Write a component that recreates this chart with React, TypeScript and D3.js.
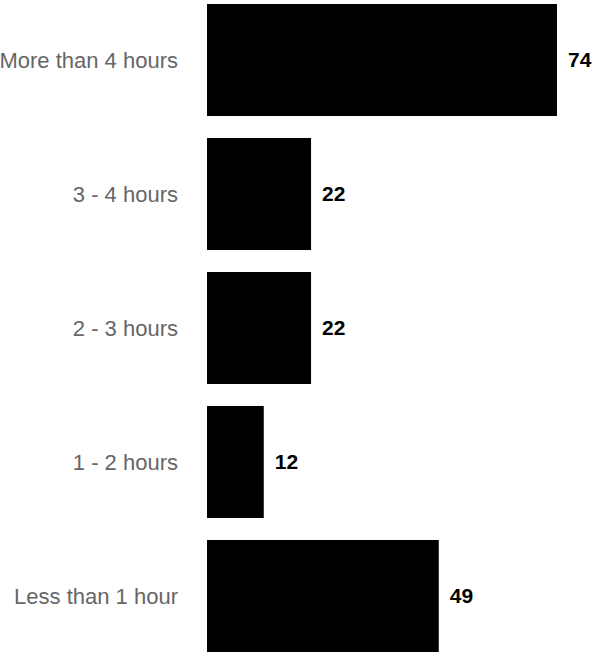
import React from 'react';
import * as d3 from 'd3';

const categories = [
  'More than 4 hours',
  '3 - 4 hours',
  '2 - 3 hours',
  '1 - 2 hours',
  'Less than 1 hour',
];
const values = [74, 22, 22, 12, 49];

const width = 593;
const height = 652;

const App: React.FC = () => {
  const svgRef = React.useRef<SVGSVGElement>(null);

  React.useEffect(() => {
    const svg = d3.select(svgRef.current);
    svg.selectAll('*').remove();

    const x = d3.scaleLinear().domain([0, 74]).range([207, 557]);
    const y = d3
      .scaleBand<string>()
      .domain(categories)
      .range([4, 652])
      .paddingInner(0.164)
      .paddingOuter(0);

    const data = categories.map((c, i) => ({ name: c, value: values[i] }));

    // bars
    svg
      .selectAll('.bar')
      .data(data)
      .enter()
      .append('rect')
      .attr('x', x(0))
      .attr('y', (d) => y(d.name)!)
      .attr('width', (d) => x(d.value) - x(0))
      .attr('height', y.bandwidth())
      .attr('fill', '#000');

    // category labels
    svg
      .selectAll('.label')
      .data(data)
      .enter()
      .append('text')
      .attr('x', 178)
      .attr('y', (d) => y(d.name)! + y.bandwidth() / 2)
      .attr('dy', '0.35em')
      .attr('text-anchor', 'end')
      .attr('fill', '#666')
      .attr('font-family', 'Liberation Sans, Arial, sans-serif')
      .attr('font-size', 22)
      .text((d) => d.name);

    // value labels
    svg
      .selectAll('.value')
      .data(data)
      .enter()
      .append('text')
      .attr('x', (d) => x(d.value) + 11)
      .attr('y', (d) => y(d.name)! + y.bandwidth() / 2)
      .attr('dy', '0.35em')
      .attr('fill', '#000')
      .attr('font-family', 'Liberation Sans, Arial, sans-serif')
      .attr('font-size', 21)
      .attr('font-weight', 'bold')
      .text((d) => d.value);
  }, []);

  return (
    <svg
      ref={svgRef}
      width={width}
      height={height}
      style={{ position: 'absolute', left: 0, top: 0, background: '#fff' }}
    />
  );
};

export default App;
